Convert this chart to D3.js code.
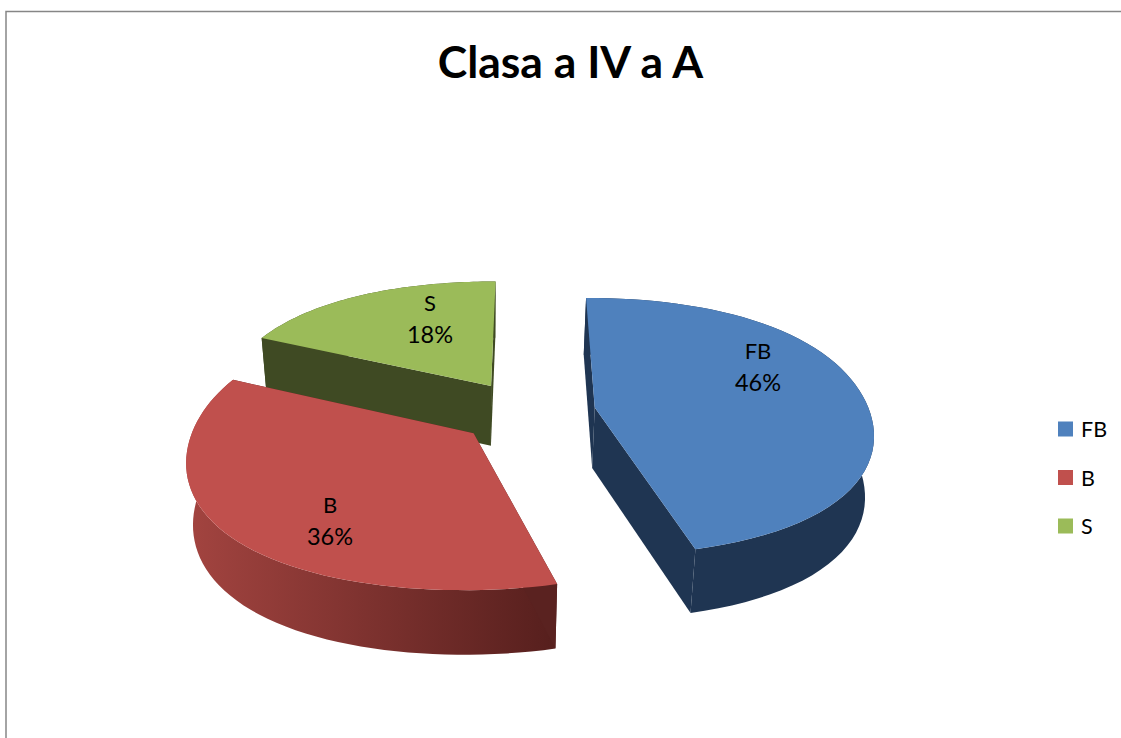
<!DOCTYPE html>
<html>
<head>
<meta charset="utf-8">
<title>Clasa a IV a A</title>
<script src="https://cdn.jsdelivr.net/npm/d3@7"></script>
<style>
  html, body { margin: 0; padding: 0; background: #fff; overflow: hidden; }
  text { font-family: Lato, "Open Sans", sans-serif; fill: #000; }
</style>
</head>
<body>
<div id="chart"></div>
<script>
const categories = ["FB", "B", "S"];
const shares = [45.5, 36.4, 18.1];
const topColors = ["#4f81bd", "#c0504d", "#9bbb59"];
const cutColors = ["#1f3552", "#5a2220", "#3f4a23"];
const wallStops = [["#1f3552", "#1f3552"], ["#a34440", "#561f1d"], ["#3f4a23", "#3f4a23"]];

const svgWidth = 1121;
const svgHeight = 738;

// pie geometry
const center = { x: 527, y: 412 };
const radiusX = 275;
const radiusY = 127;
const perspective = 0.147;
const explode = 0.25;
const wallDepth = 60.5;
const rimFullness = 0.025;

const svg = d3.select("#chart")
  .append("svg")
  .attr("width", svgWidth)
  .attr("height", svgHeight);

// chart area border, only top and left are in the frame
svg.append("path")
  .attr("d", `M6,${svgHeight}V11.5H${svgWidth}`)
  .attr("fill", "none")
  .attr("stroke", "#868686")
  .attr("stroke-width", 1.5);

svg.append("text")
  .attr("x", 570.5)
  .attr("y", 78)
  .attr("text-anchor", "middle")
  .attr("font-size", 44.5)
  .attr("font-weight", 700)
  .text("Clasa a IV a A");

// X right, Y toward the viewer, both in pie radii. level 0 = top face, 1 = bottom
function project(X, Y, level) {
  const w = 1 / (1 - perspective * Y);
  let px = center.x + X * radiusX * w;
  let py = center.y + Y * radiusY * w;
  if (level) {
    px = center.x + (px - center.x) * 0.977 - 1;
    py = py + wallDepth + 3.5 * Y;
  }
  return [px, py];
}

const pie = d3.pie().sort(null);
const slices = pie(shares);
const line = d3.line();

function rimPoints(slice, level) {
  const mid = (slice.startAngle + slice.endAngle) / 2;
  const ox = explode * Math.sin(mid);
  const oy = -explode * Math.cos(mid);
  return d3.range(0, 61).map(i => {
    const a = slice.startAngle + (slice.endAngle - slice.startAngle) * i / 60;
    // the original rim is a bit rounder than a true ellipse on the diagonals
    const r = 1 + rimFullness * Math.sin(2 * a) ** 2;
    return project(ox + r * Math.sin(a), oy - r * Math.cos(a), level);
  });
}

function apex(slice, level) {
  const mid = (slice.startAngle + slice.endAngle) / 2;
  return project(explode * Math.sin(mid), -explode * Math.cos(mid), level);
}

const defs = svg.append("defs");
wallStops.forEach((stops, i) => {
  const xs = rimPoints(slices[i], 0).map(p => p[0]);
  const grad = defs.append("linearGradient")
    .attr("id", `wall${i}`)
    .attr("gradientUnits", "userSpaceOnUse")
    .attr("x1", d3.min(xs))
    .attr("x2", d3.max(xs))
    .attr("y1", 0)
    .attr("y2", 0);
  grad.append("stop").attr("offset", 0).attr("stop-color", stops[0]);
  grad.append("stop").attr("offset", 1).attr("stop-color", stops[1]);
});

// back slice first so the red top lies over the green wall
[2, 0, 1].forEach(i => {
  const slice = slices[i];
  const topRim = rimPoints(slice, 0);
  const botRim = rimPoints(slice, 1);
  const g = svg.append("g");

  g.append("path")
    .attr("d", line(topRim.concat(botRim.slice().reverse())) + "Z")
    .attr("fill", `url(#wall${i})`);

  [0, 60].forEach(end => {
    g.append("path")
      .attr("d", line([apex(slice, 0), topRim[end], botRim[end], apex(slice, 1)]) + "Z")
      .attr("fill", cutColors[i]);
  });

  g.append("path")
    .attr("d", line([apex(slice, 0)].concat(topRim)) + "Z")
    .attr("fill", topColors[i]);
});

// data labels
const labelAt = [[758, 359], [330, 513], [430, 311]];
slices.forEach((slice, i) => {
  const label = svg.append("text")
    .attr("x", labelAt[i][0])
    .attr("y", labelAt[i][1])
    .attr("text-anchor", "middle")
    .attr("font-size", 22);
  label.append("tspan").text(categories[i]);
  label.append("tspan")
    .attr("x", labelAt[i][0])
    .attr("dy", 32)
    .attr("font-size", 23.5)
    .text(Math.round(shares[i]) + "%");
});

// legend
const legendY = d3.scalePoint().domain(categories).range([429, 526]);
const legend = svg.append("g")
  .selectAll("g")
  .data(categories)
  .join("g")
  .attr("transform", d => `translate(1058, ${legendY(d)})`);

legend.append("rect")
  .attr("y", -7.5)
  .attr("width", 15)
  .attr("height", 15)
  .attr("fill", (d, i) => topColors[i]);

legend.append("text")
  .attr("x", 23)
  .attr("y", 8)
  .attr("font-size", 21.5)
  .text(d => d);
</script>
</body>
</html>
